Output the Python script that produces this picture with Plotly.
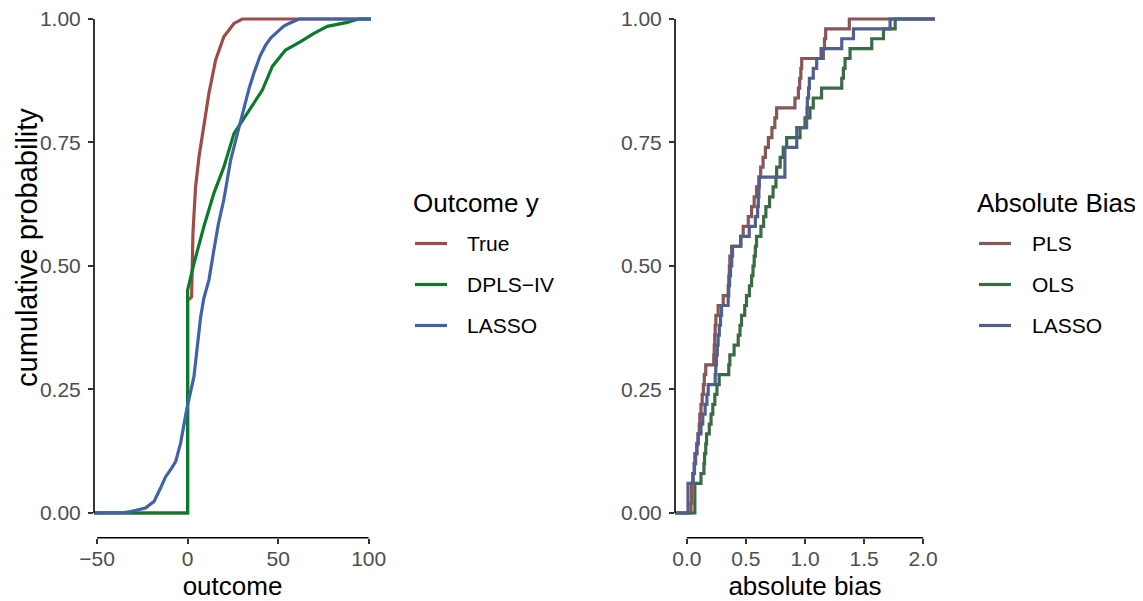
import plotly.graph_objects as go

# ---------------- data ----------------
# Left panel: ECDF of outcome y, x = outcome, p = cumulative probability
true_x = [0, 0, 2.2, 2.95, 4.4, 6.3, 9, 11.8, 15.5, 20, 25.6, 30.2]
true_p = [0, 0.43, 0.437, 0.566, 0.66, 0.721, 0.78, 0.85, 0.917, 0.964, 0.991, 1.0]

dpls_x = [0, 0, 3.5, 9, 14.5, 20, 25.6, 31.1, 36.6, 41.3, 46.8, 54.1, 62.4, 69.8, 77.2, 88.2, 94.3]
dpls_p = [0, 0.451, 0.505, 0.58, 0.647, 0.70, 0.768, 0.799, 0.829, 0.856, 0.904, 0.937, 0.954,
          0.971, 0.985, 0.993, 1.0]

lasso_y_x = [-44.7, -35, -31.5, -23.2, -20.5, -18.6, -15, -12.2, -9, -6.6, -3.9, -2, -0.2, 3.5, 5.5,
             7.2, 9, 11.8, 14.5, 17, 20, 23.8, 27.5, 31.1, 34, 36.6, 40, 43.1, 46, 49.6, 53, 56, 61.5]
lasso_y_p = [0, 0.001, 0.003, 0.01, 0.018, 0.023, 0.05, 0.073, 0.09, 0.104, 0.141, 0.18, 0.215, 0.276,
             0.34, 0.397, 0.435, 0.472, 0.532, 0.585, 0.634, 0.715, 0.768, 0.822, 0.86, 0.89, 0.925,
             0.947, 0.962, 0.974, 0.985, 0.991, 1.0]

# Right panel: absolute bias values (50 replications per method)
pls_bias = [0.035, 0.04, 0.04, 0.05, 0.065, 0.075, 0.085, 0.095, 0.105, 0.11,
            0.12, 0.13, 0.14, 0.148, 0.16, 0.228, 0.232, 0.236, 0.24, 0.246,
            0.265, 0.308, 0.35, 0.355, 0.36, 0.364, 0.379, 0.455, 0.477, 0.52,
            0.548, 0.57, 0.59, 0.61, 0.625, 0.645, 0.665, 0.69, 0.72, 0.745,
            0.76, 0.915, 0.944, 0.955, 0.965, 0.972, 1.155, 1.165, 1.175, 1.375]
ols_bias = [0.068, 0.068, 0.068, 0.12, 0.145, 0.15, 0.16, 0.167, 0.19, 0.205,
            0.22, 0.237, 0.255, 0.274, 0.355, 0.364, 0.40, 0.435, 0.45, 0.463,
            0.49, 0.505, 0.53, 0.548, 0.56, 0.57, 0.58, 0.59, 0.627, 0.65,
            0.669, 0.70, 0.73, 0.754, 0.76, 0.79, 0.816, 0.845, 0.958, 1.0,
            1.042, 1.07, 1.14, 1.311, 1.325, 1.339, 1.381, 1.565, 1.664, 1.763]
lasso_bias = [0.01, 0.01, 0.01, 0.054, 0.062, 0.068, 0.085, 0.096, 0.12, 0.135,
              0.155, 0.17, 0.181, 0.24, 0.245, 0.25, 0.258, 0.265, 0.275, 0.285,
              0.294, 0.35, 0.355, 0.362, 0.37, 0.38, 0.387, 0.458, 0.528, 0.58,
              0.599, 0.605, 0.61, 0.613, 0.83, 0.83, 0.83, 0.93, 0.93, 1.014,
              1.017, 1.02, 1.03, 1.037, 1.07, 1.099, 1.136, 1.311, 1.41, 1.72]

left_names = ["True", "DPLS\u2212IV", "LASSO"]
right_names = ["PLS", "OLS", "LASSO"]
left_colors = ["#A04B45", "#0B7A2C", "#3F62A8"]
right_colors = ["#875656", "#3A6B44", "#515F8D"]
left_legend_title = "Outcome y"
right_legend_title = "Absolute Bias"

y_ticks = [0, 0.25, 0.5, 0.75, 1.0]
left_x_ticks = [-50, 0, 50, 100]
right_x_ticks = [0, 0.5, 1.0, 1.5, 2.0]

# ---------------- layout geometry ----------------
# the page body has an 8px margin, so the figure occupies window pixels 8..1143 x 8..601
OFF = 8
W, H = 1143 - OFF, 601 - OFF
FONT = "Liberation Sans, Arial, Helvetica, sans-serif"


def px(X):  # window x pixel -> paper fraction
    return (X - OFF) / W


def py(Y):  # window y pixel -> paper fraction
    return (OFF + H - Y) / H


left_range = [-51.7, 101.3]
right_range = [-0.1, 2.1]
y_range = [-0.05, 1.02]
left_dom = [px(94), px(371)]
right_dom = [px(675), px(935)]
y_dom = [py(537.7), py(9.1)]


def to_paper(v, rng, dom):
    return dom[0] + (v - rng[0]) / (rng[1] - rng[0]) * (dom[1] - dom[0])


fig = go.Figure()

for xs, ps, name, col in zip([true_x, dpls_x, lasso_y_x], [true_p, dpls_p, lasso_y_p],
                             left_names, left_colors):
    fig.add_trace(go.Scatter(
        x=[left_range[0]] + xs + [left_range[1]], y=[0] + ps + [1.0],
        mode="lines", name=name, line=dict(color=col, width=3.2),
        xaxis="x", yaxis="y", showlegend=False))

for vals, name, col in zip([pls_bias, ols_bias, lasso_bias], right_names, right_colors):
    s = sorted(vals)
    n = len(s)
    xs = [right_range[0]] + s + [right_range[1]]
    ys = [0] + [(i + 1) / n for i in range(n)] + [1.0]
    fig.add_trace(go.Scatter(
        x=xs, y=ys, mode="lines", line_shape="hv", name=name,
        line=dict(color=col, width=3.2),
        xaxis="x2", yaxis="y2", showlegend=False))

tickfont = dict(family=FONT, size=21, color="#4D4D4D")
titlefont = dict(family=FONT, size=26, color="black")
common_axis = dict(showgrid=False, zeroline=False, showline=False, ticks="outside",
                   ticklen=5, tickwidth=1.5, tickcolor="#333333", tickfont=tickfont,
                   fixedrange=True, ticklabeloverflow="allow")
x_axis_extra = dict(ticklabelstandoff=-3, **common_axis)
y_axis_extra = dict(ticklabelstandoff=3, **common_axis)

fig.update_layout(
    width=W, height=H,
    margin=dict(l=0, r=0, t=0, b=0, autoexpand=False),
    paper_bgcolor="white", plot_bgcolor="white",
    font=dict(family=FONT),
    showlegend=False,
    xaxis=dict(domain=left_dom, range=left_range, anchor="y", tickvals=left_x_ticks,
               title=dict(text="outcome", font=titlefont, standoff=9), **x_axis_extra),
    yaxis=dict(domain=y_dom, range=y_range, anchor="x", tickvals=y_ticks, tickformat=".2f",
               **y_axis_extra),
    xaxis2=dict(domain=right_dom, range=right_range, anchor="y2", tickvals=right_x_ticks,
                tickformat=".1f",
                title=dict(text="absolute bias", font=titlefont, standoff=9), **x_axis_extra),
    yaxis2=dict(domain=y_dom, range=y_range, anchor="x2", tickvals=y_ticks, tickformat=".2f",
                **y_axis_extra),
)

# y-axis title of the left panel
fig.add_annotation(text="cumulative probability", xref="paper", yref="paper",
                   x=px(27), y=py(248), textangle=-90, showarrow=False,
                   xanchor="center", yanchor="middle",
                   font=dict(family=FONT, size=29, color="black"))

# legends (title + line key + label)
shapes = []
legend_specs = [(411, 415, 447, 465, left_legend_title, left_names, left_colors),
                (975, 979, 1011, 1030, right_legend_title, right_names, right_colors)]
row_y = [243.5, 284.5, 325.5]
for tx, lx0, lx1, lab_x, title, names, cols in legend_specs:
    fig.add_annotation(text=title, xref="paper", yref="paper", x=px(tx), y=py(203),
                       xanchor="left", yanchor="middle", showarrow=False, font=titlefont)
    for yy, name, col in zip(row_y, names, cols):
        shapes.append(dict(type="line", xref="paper", yref="paper",
                           x0=px(lx0), x1=px(lx1), y0=py(yy), y1=py(yy),
                           line=dict(color=col, width=3.2)))
        fig.add_annotation(text=name, xref="paper", yref="paper", x=px(lab_x), y=py(yy),
                           xanchor="left", yanchor="middle", showarrow=False,
                           font=dict(family=FONT, size=21, color="black"))

# capped axis lines (y line spans 0..1, x line spans first..last break)
for xr, xd, xt in [(left_range, left_dom, left_x_ticks), (right_range, right_dom, right_x_ticks)]:
    xl = xd[0]
    shapes.append(dict(type="line", xref="paper", yref="paper",
                       x0=xl, x1=xl,
                       y0=to_paper(0, y_range, y_dom), y1=to_paper(1, y_range, y_dom),
                       line=dict(color="black", width=1.6)))
    shapes.append(dict(type="line", xref="paper", yref="paper",
                       x0=to_paper(xt[0], xr, xd), x1=to_paper(xt[-1], xr, xd),
                       y0=y_dom[0], y1=y_dom[0],
                       line=dict(color="black", width=1.6)))
fig.update_layout(shapes=shapes)

fig.write_html("out.html")
